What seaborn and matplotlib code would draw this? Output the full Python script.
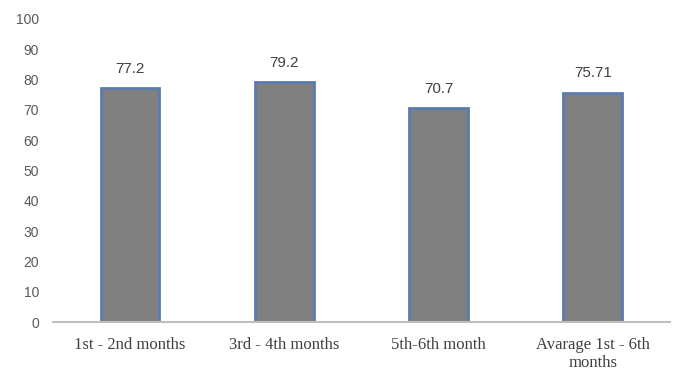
import seaborn as sns
import matplotlib.pyplot as plt

# Datos
periodos = ["1st - 2nd months", "3rd - 4th months", "5th-6th month", "Avarage 1st - 6th\nmonths"]
valores = [77.2, 79.2, 70.7, 75.71]
etiquetas = ["77.2", "79.2", "70.7", "75.71"]

sns.set_style("white")

fig = plt.figure(figsize=(6.8, 3.72), dpi=100)
ax = fig.add_axes([0.078, 0.134, 0.907, 0.815])

sns.barplot(x=periodos, y=valores, ax=ax, color="#808080", width=0.38,
            edgecolor="#5B7BAF", linewidth=2, saturation=1)

for i, (v, t) in enumerate(zip(valores, etiquetas)):
    ax.text(i, v + 4, t, ha="center", va="bottom", fontsize=11,
            color="#404040", family="Liberation Sans")

ax.set_ylim(0, 100)
ax.set_yticks(range(0, 101, 10))
ax.set_xlim(-0.5, 3.5)

for s in ["top", "right", "left"]:
    ax.spines[s].set_visible(False)
ax.spines["bottom"].set_color("#BFBFBF")
ax.spines["bottom"].set_linewidth(1.5)

ax.tick_params(axis="y", length=0, pad=10, colors="#595959")
ax.tick_params(axis="x", length=0, pad=11, colors="#404040")
for lbl in ax.get_yticklabels():
    lbl.set_family("Liberation Sans")
    lbl.set_fontsize(10)
for lbl in ax.get_xticklabels():
    lbl.set_family("Liberation Serif")
    lbl.set_fontsize(12)
    lbl.set_linespacing(1.15)

plt.savefig("out.png", dpi=100)
